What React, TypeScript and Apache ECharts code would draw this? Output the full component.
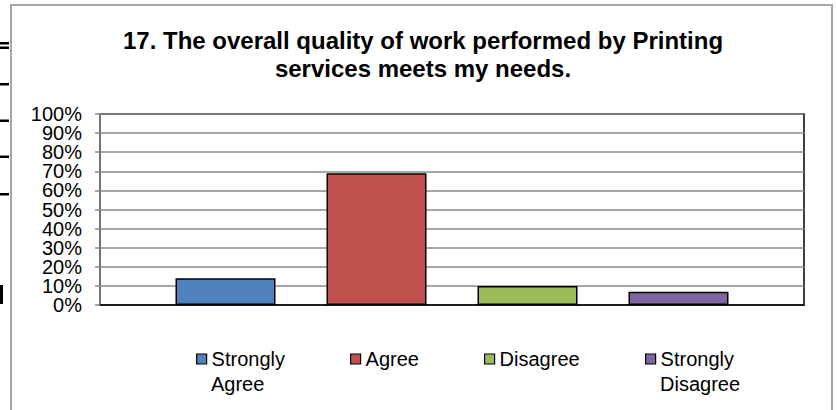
import React, { useEffect, useRef } from "react";
import * as echarts from "echarts";

const titleLines = ["17. The overall quality of work performed by Printing", "services meets my needs."];
const categories = [""];
const seriesNames = ["Strongly Agree", "Agree", "Disagree", "Strongly Disagree"];
const legendFirstLines = ["Strongly", "Agree", "Disagree", "Strongly"];
const legendSecondLines = ["Agree", "", "", "Disagree"];
const seriesValues = [14, 69, 10, 7];
const seriesColors = ["#4F81BD", "#C0504D", "#9BBB59", "#8064A2"];
const yTicks = { min: 0, max: 100, interval: 10 };
const yTickLabels = ["0%", "10%", "20%", "30%", "40%", "50%", "60%", "70%", "80%", "90%", "100%"];

const FONT = "'Liberation Sans', Arial, sans-serif";

export default function App() {
  const ref = useRef<HTMLDivElement>(null);
  useEffect(() => {
    if (!ref.current) return;
    const chart = echarts.init(ref.current, undefined, { renderer: "svg" });
    const legendLeft = [196, 350, 484, 645];
    const secondLineTexts = legendSecondLines
      .map((t, i) => ({ t, i }))
      .filter((d) => d.t)
      .map((d) => ({
        type: "text",
        x: legendLeft[d.i] + 15,
        y: 384,
        silent: true,
        style: {
          text: d.t,
          fontFamily: FONT,
          fontSize: 20,
          fill: "#000",
          verticalAlign: "middle",
          align: "left",
        },
      }));
    const option: any = {
      animation: false,
      backgroundColor: "#ffffff",
      title: {
        text: titleLines.join("\n"),
        left: 418,
        top: 21,
        textAlign: "center",
        textStyle: {
          fontFamily: FONT,
          fontWeight: "bold",
          fontSize: 24,
          lineHeight: 28,
          color: "#000",
        },
      },
      grid: {
        left: 100,
        right: 33,
        top: 114,
        bottom: 105,
        show: true,
        borderColor: "#000",
        borderWidth: 1.5,
        backgroundColor: "transparent",
      },
      xAxis: {
        type: "category",
        data: categories,
        axisLine: { show: true, lineStyle: { color: "#000", width: 1.5 } },
        axisTick: { show: false },
        axisLabel: { show: false },
        splitLine: { show: false },
      },
      yAxis: [
        {
          type: "value",
          position: "left",
          min: yTicks.min,
          max: yTicks.max,
          interval: yTicks.interval,
          axisLine: { show: true, lineStyle: { color: "#868686", width: 1.5 } },
          axisTick: { show: true, length: 5, lineStyle: { color: "#868686", width: 1.5 } },
          axisLabel: { show: false },
          splitLine: { show: true, lineStyle: { color: "#8a8a8a", width: 1.5 } },
        },
        {
          type: "category",
          position: "left",
          offset: 0,
          data: yTickLabels,
          boundaryGap: false,
          axisLine: { show: false },
          axisTick: { show: false },
          splitLine: { show: false },
          axisLabel: {
            interval: 0,
            margin: 18,
            fontFamily: FONT,
            fontSize: 20,
            color: "#000",
          },
        },
      ],
      legend: seriesNames.map((name, i) => ({
        data: [name],
        left: legendLeft[i],
        top: 349,
        padding: 0,
        icon: "rect",
        itemWidth: 10,
        itemHeight: 10,
        itemGap: 4,
        selectedMode: false,
        formatter: () => legendFirstLines[i],
        textStyle: {
          fontFamily: FONT,
          fontSize: 20,
          color: "#000",
        },
        itemStyle: { borderColor: "#000", borderWidth: 1.2 },
      })),
      series: seriesNames.map((name, i) => ({
        type: "bar",
        name,
        yAxisIndex: 0,
        data: [seriesValues[i]],
        barWidth: 100,
        barGap: "51%",
        itemStyle: { color: seriesColors[i], borderColor: "#000", borderWidth: 1.5 },
      })),
      graphic: [
        { type: "rect", shape: { x: 11, y: 5, width: 821, height: 420 }, style: { fill: "none", stroke: "#a6a6a6", lineWidth: 2 }, silent: true },
        { type: "rect", shape: { x: 0, y: 42, width: 9, height: 2.5 }, style: { fill: "#000" } },
        { type: "rect", shape: { x: 0, y: 46.5, width: 9, height: 2.5 }, style: { fill: "#000" } },
        { type: "rect", shape: { x: 0, y: 83, width: 9, height: 2.5 }, style: { fill: "#000" } },
        { type: "rect", shape: { x: 0, y: 119.5, width: 9, height: 2.5 }, style: { fill: "#000" } },
        { type: "rect", shape: { x: 0, y: 155.5, width: 9, height: 2.5 }, style: { fill: "#000" } },
        { type: "rect", shape: { x: 0, y: 193, width: 9, height: 2.5 }, style: { fill: "#000" } },
        { type: "rect", shape: { x: 0, y: 285, width: 3, height: 19 }, style: { fill: "#000" } },
        ...secondLineTexts,
      ],
    };
    chart.setOption(option);
    return () => chart.dispose();
  }, []);
  return (
    <div
      ref={ref}
      style={{ position: "fixed", left: 0, top: 0, width: 837, height: 410 }}
    />
  );
}
